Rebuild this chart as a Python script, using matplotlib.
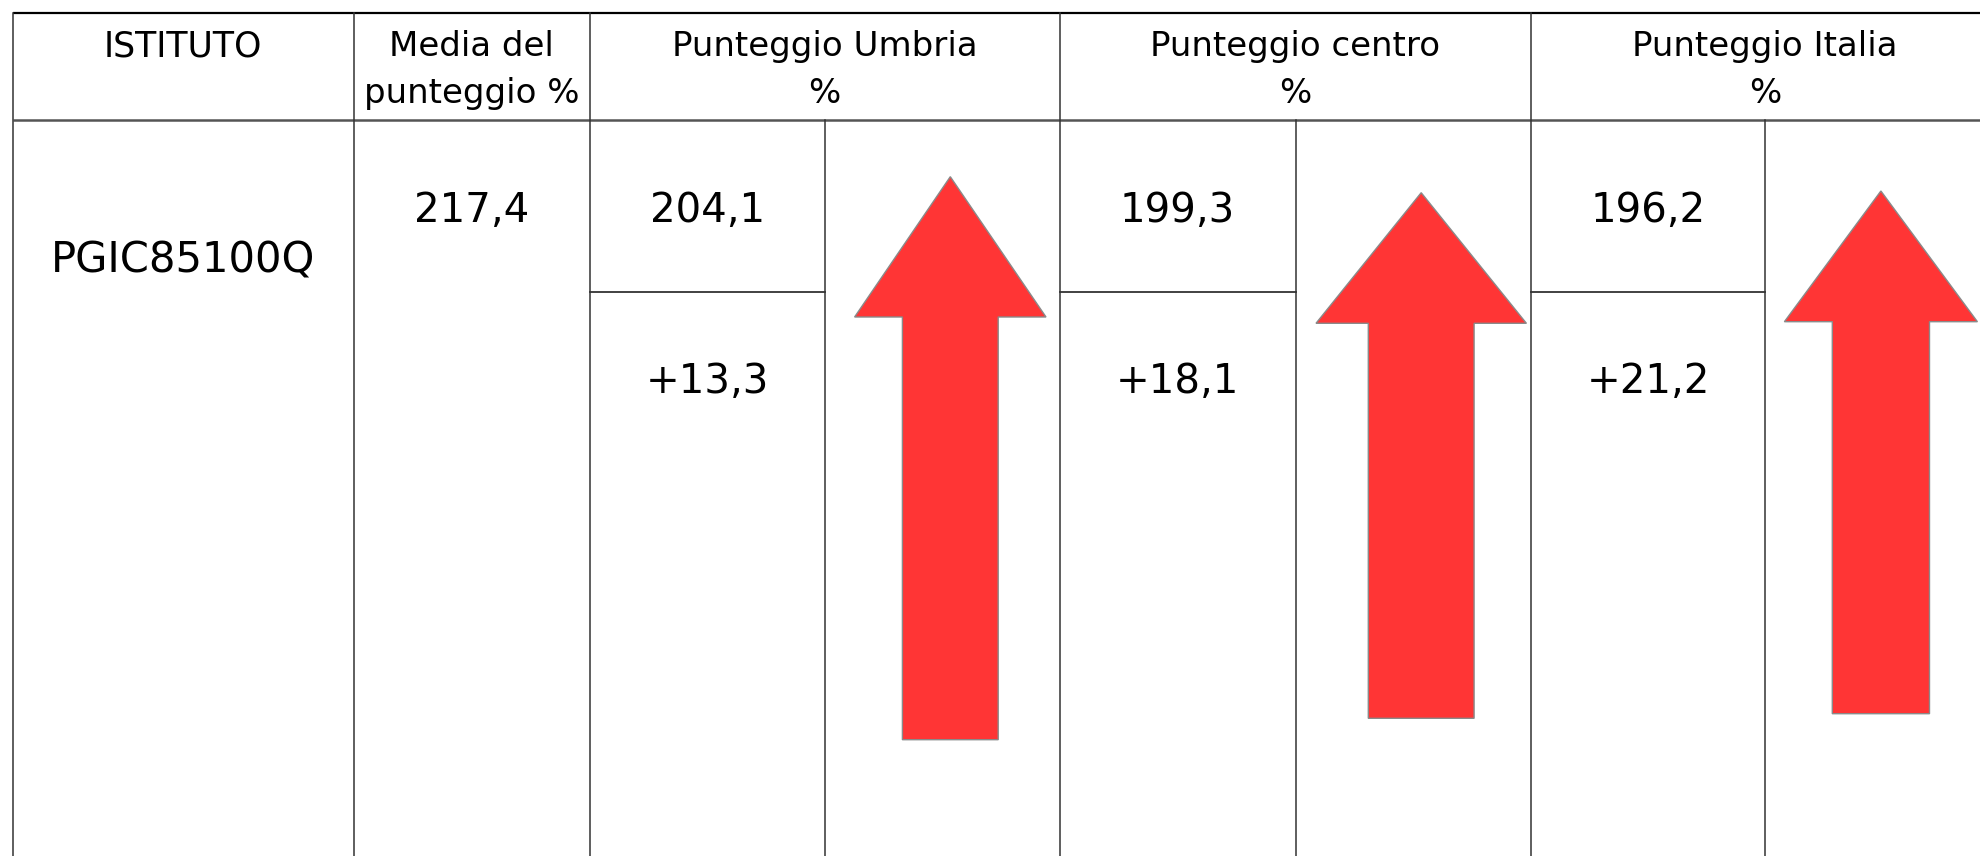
import matplotlib
matplotlib.use("Agg")
import matplotlib.pyplot as plt
from matplotlib.patches import Polygon

# ---- data ----
istituto = "PGIC85100Q"
media = 217.4
confronti = ["Umbria", "centro", "Italia"]
punteggi = [204.1, 199.3, 196.2]
differenze = [13.3, 18.1, 21.2]
intestazioni = ["ISTITUTO", "Media del\npunteggio %"] + [f"Punteggio {c}\n%" for c in confronti]


def fmt(v, sign=False):
    s = f"{abs(v):.1f}".replace(".", ",")
    if sign:
        s = ("+" if v >= 0 else "-") + s
    return s


# ---- layout (pixel coordinates) ----
W, H = 1980, 856
fig = plt.figure(figsize=(W / 100, H / 100), dpi=100)
ax = fig.add_axes([0, 0, 1, 1])
ax.set_xlim(0, W)
ax.set_ylim(H, 0)
ax.axis("off")

FONT = "DejaVu Sans"
left = 12.6
top = 12.7
head_bot = 119.5
sub_row = 291.7
col_edges = [left, 353.6, 589.5, 1059.5, 1530.5, 2000.0]
sub_cols = [824.8, 1295.5, 1765.4]

line_col = "#333333"
# horizontal lines
ax.plot([left, W], [top, top], color="black", lw=1.6, solid_capstyle="butt")
ax.plot([left, W], [head_bot, head_bot], color="#555555", lw=1.8, solid_capstyle="butt")
for i in range(3):
    ax.plot([col_edges[2 + i], sub_cols[i]], [sub_row, sub_row], color=line_col, lw=1.3)
# vertical lines
for x in col_edges[:-1]:
    ax.plot([x, x], [top, H], color=line_col, lw=1.1)
for x in sub_cols:
    ax.plot([x, x], [head_bot, H], color=line_col, lw=1.1)

# header texts
for i, lab in enumerate(intestazioni):
    cx = (col_edges[i] + col_edges[i + 1]) / 2
    lines = lab.split("\n")
    fs = 25 if i == 0 else 24.5
    for j, ln in enumerate(lines):
        ax.text(cx, 56 + 47 * j, ln, ha="center", va="baseline",
                fontsize=fs, family=FONT, color="black")

# body texts
ax.text((col_edges[0] + col_edges[1]) / 2, 273, istituto, ha="center",
        va="baseline", fontsize=30, family=FONT)
ax.text((col_edges[1] + col_edges[2]) / 2, 222, fmt(media), ha="center",
        va="baseline", fontsize=29, family=FONT)
for i in range(3):
    cx = (col_edges[2 + i] + sub_cols[i]) / 2
    ax.text(cx, 222, fmt(punteggi[i]), ha="center", va="baseline",
            fontsize=29, family=FONT)
    ax.text(cx, 393, fmt(differenze[i], sign=True), ha="center", va="baseline",
            fontsize=29, family=FONT)

# arrows (direction from sign of the difference)
arrow_geom = [  # cx, tip, head base, head half-width, shaft half-width, bottom
    (950.3, 176.7, 317.0, 95.7, 47.9, 739.7),
    (1421.2, 192.7, 323.3, 105.2, 52.9, 718.3),
    (1880.9, 191.0, 321.7, 96.5, 48.6, 713.7),
]
for d, (cx, tip, base, hh, sh, bot) in zip(differenze, arrow_geom):
    pts = [(cx, tip), (cx + hh, base), (cx + sh, base), (cx + sh, bot),
           (cx - sh, bot), (cx - sh, base), (cx - hh, base)]
    if d < 0:
        mid = (tip + bot) / 2
        pts = [(x, 2 * mid - y) for x, y in pts]
    color = "#FF3535" if d >= 0 else "#2E9E3E"
    ax.add_patch(Polygon(pts, closed=True, facecolor=color,
                         edgecolor="#8A8A8A", lw=1.0, zorder=3))

fig.savefig("out.png", dpi=100)
